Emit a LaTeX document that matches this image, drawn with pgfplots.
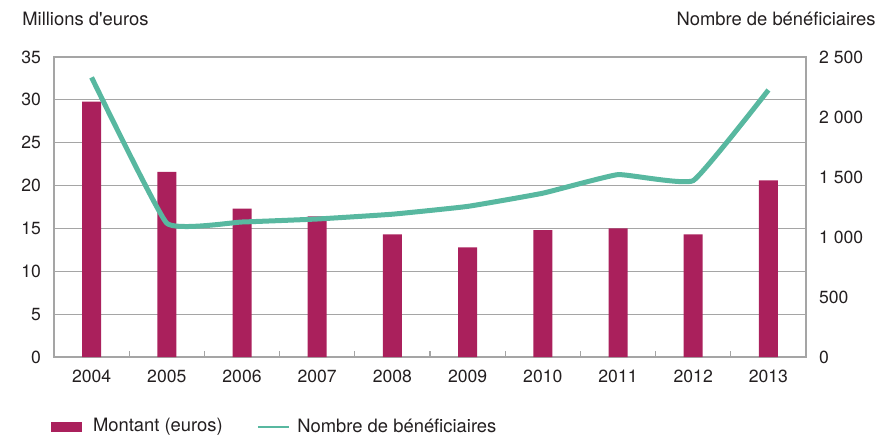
\documentclass[border=0pt]{standalone}
\usepackage{pgfplots}
\pgfplotsset{compat=1.18}
\usepackage{fontspec}
\setmainfont{TeX Gyre Heros}
\definecolor{barcol}{RGB}{170,32,92}
\definecolor{linecol}{RGB}{88,184,160}
\definecolor{gridcol}{RGB}{165,165,165}
\definecolor{txt}{RGB}{35,31,32}
\begin{document}
\begin{tikzpicture}[font=\fontsize{9.2}{11}\selectfont, text=txt]
\useasboundingbox (0,0) rectangle (439.5pt,220pt);
\pgfplotsset{
  base/.style={
    at={(27pt,41.5pt)}, anchor=south west,
    scale only axis, width=376pt, height=150pt,
    xmin=-0.5, xmax=9.5,
    /pgf/number format/assume math mode=true,
    tick label style={font=\fontsize{8.8}{10.5}\selectfont, text=txt},
  }
}
\begin{axis}[
    base,
    ymin=0, ymax=35, ytick={0,5,...,35},
    ymajorgrids, grid style={gridcol, line width=0.6pt},
    axis line style={gridcol, line width=0.6pt},
    xtick={0,...,9},
    xticklabels={2004,2005,2006,2007,2008,2009,2010,2011,2012,2013},
    minor xtick={0.5,1.5,...,8.5},
    major tick length=0pt, minor tick length=3pt,
    minor tick style={gridcol, line width=0.6pt},
    xtick pos=bottom, ytick pos=left,
    yticklabel style={xshift=-3pt},
    xticklabel style={yshift=-3pt},
    legend style={at={(-1.5pt,-41pt)}, anchor=south west, draw=none, fill=none,
        legend columns=2, font=\fontsize{9.2}{11}\selectfont,
        /tikz/every even column/.append style={column sep=15pt},
        inner sep=0pt, outer sep=0pt},
    legend cell align=left,
]
\addplot[ybar, bar width=9.5pt, fill=barcol, draw=none,
    legend image code/.code={\fill[barcol] (0pt,-2.5pt) rectangle (15.5pt,2.5pt); \path (19pt,0pt);}]
    coordinates {(0,29.8)(1,21.6)(2,17.3)(3,16.4)(4,14.3)(5,12.8)(6,14.8)(7,15.0)(8,14.3)(9,20.6)};
\addlegendentry{Montant (euros)}
\addlegendimage{legend image code/.code={\draw[linecol, line width=1.2pt] (0pt,0pt) -- (15.5pt,0pt); \path (17.5pt,0pt);}}
\addlegendentry{Nombre de bénéficiaires}
\end{axis}
\begin{axis}[
    base,
    ymin=0, ymax=2500, ytick={0,500,...,2500},
    axis y line*=right, axis x line=none,
    axis line style={gridcol, line width=0.6pt},
    major tick length=0pt,
    yticklabel style={xshift=3pt},
    /pgf/number format/1000 sep={\ },
]
\addplot[linecol, line width=2.5pt, smooth, tension=0.2] coordinates {
    (0,2330)(1,1115)(2,1125)(3,1150)(4,1190)(5,1255)(6,1365)(7,1520)(8,1470)(9,2225)};
\end{axis}
\node[anchor=base west, inner sep=0pt] at (11pt,207pt) {Millions d\textquotesingle euros};
\node[anchor=base east, inner sep=0pt] at (438pt,207pt) {Nombre de bénéficiaires};
\end{tikzpicture}
\end{document}
